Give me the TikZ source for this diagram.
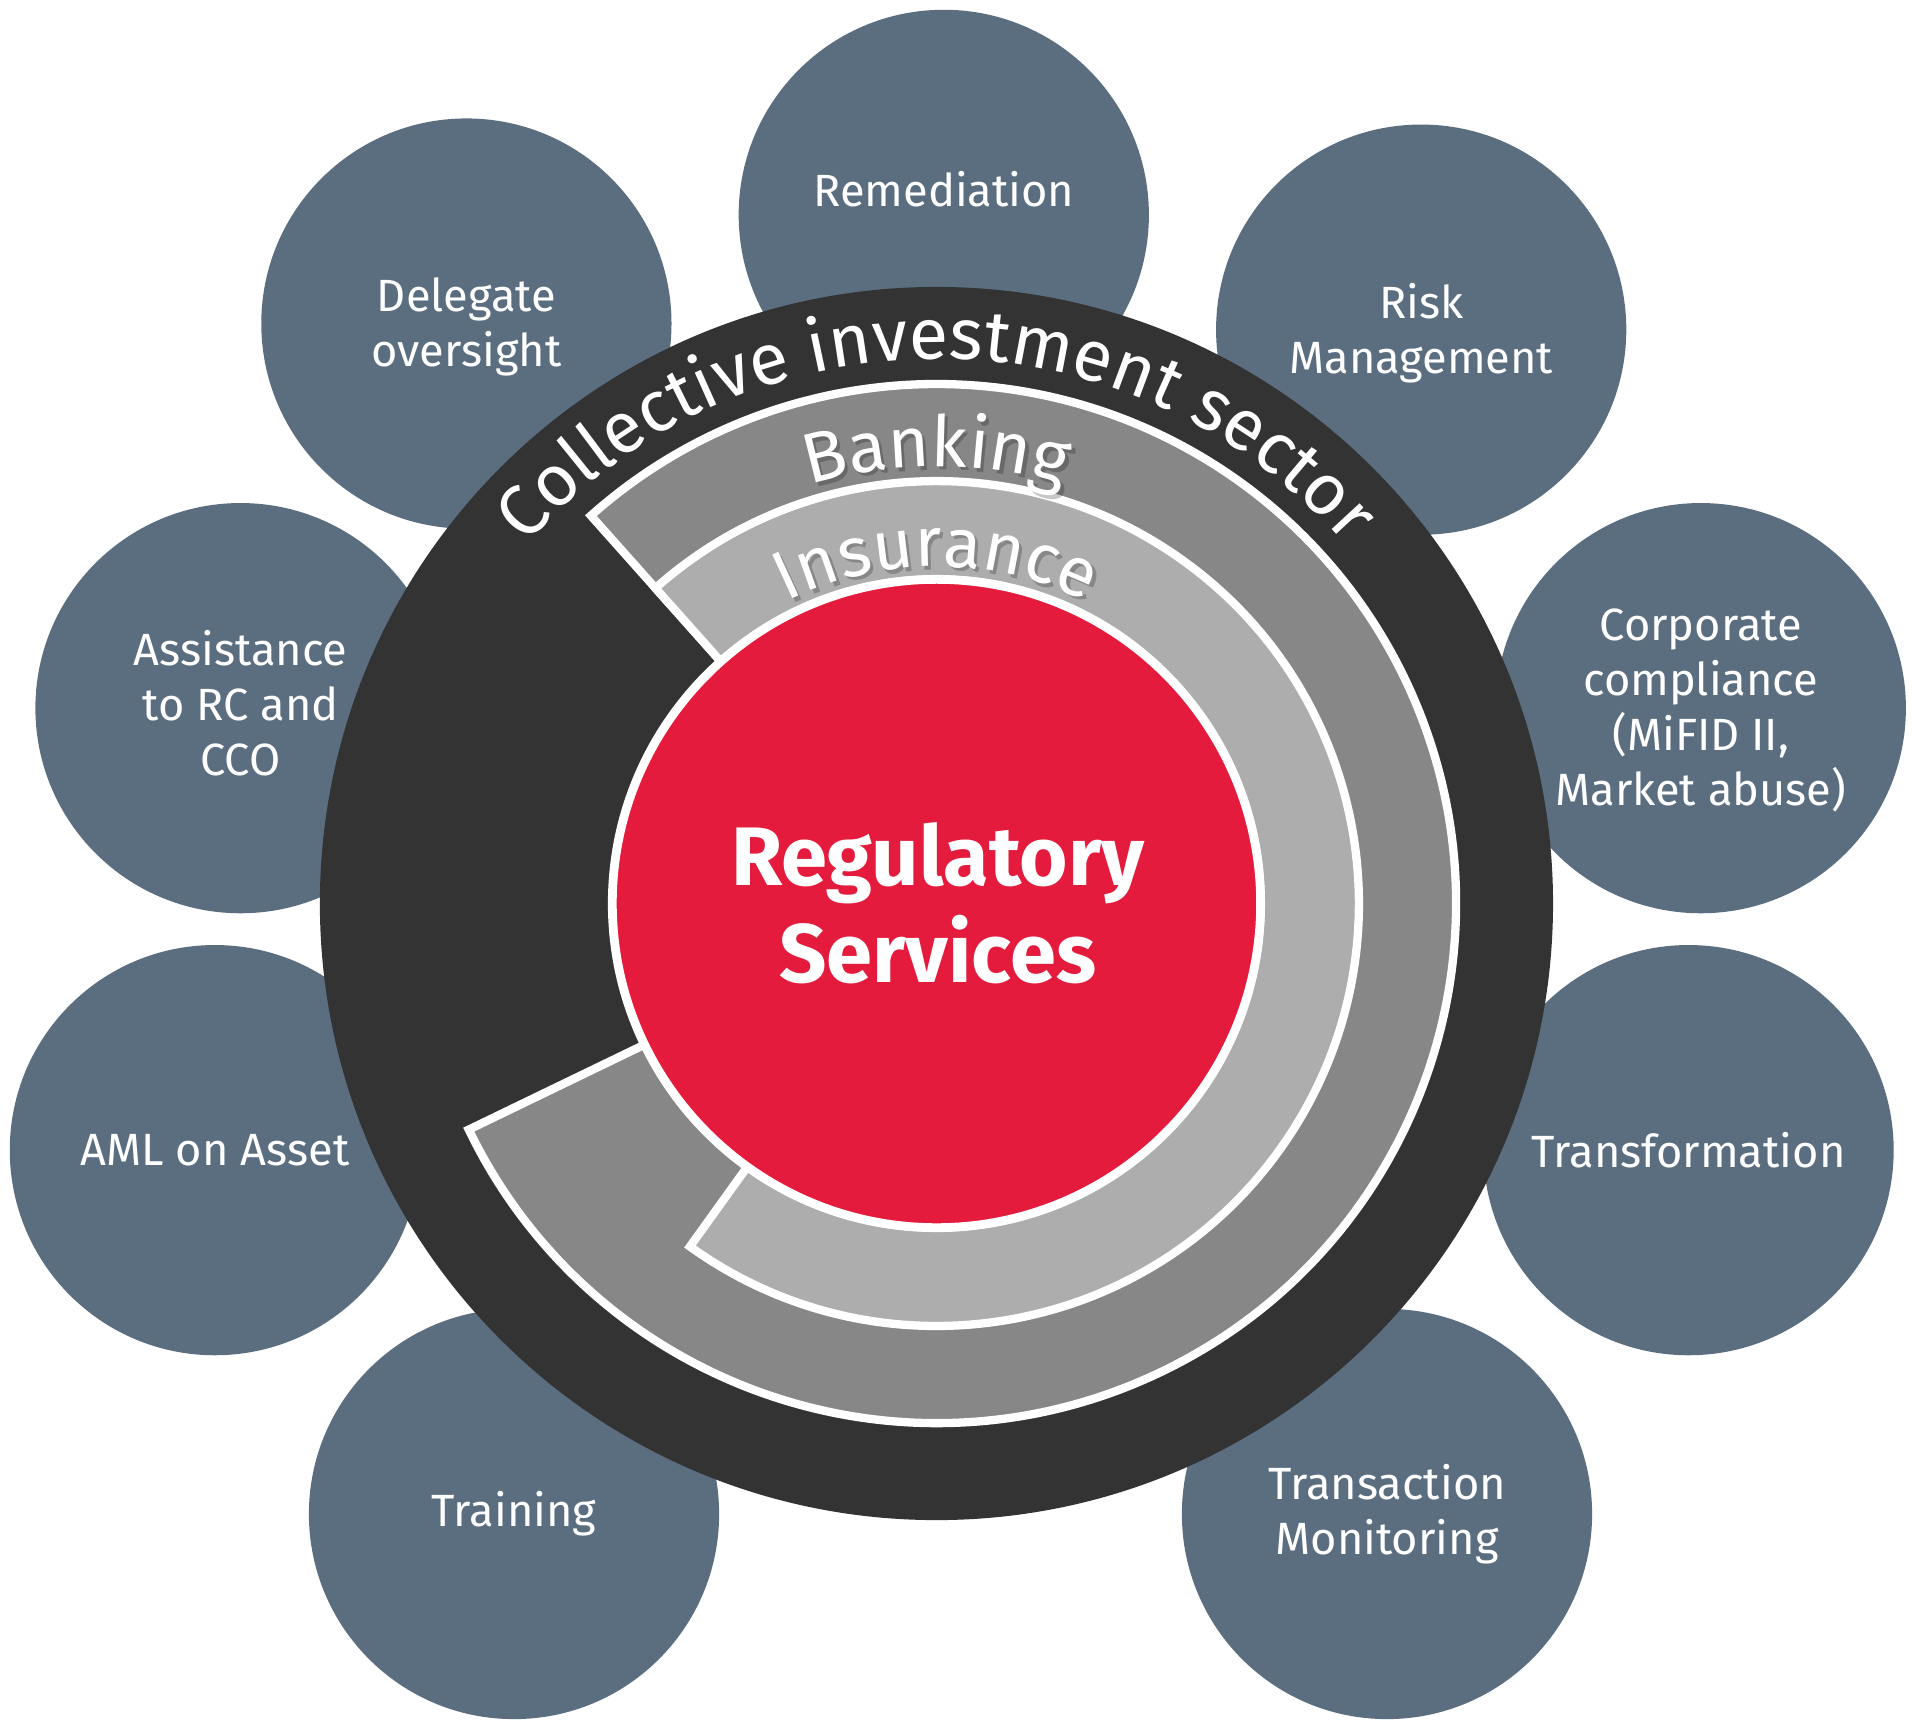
\documentclass[tikz,border=0pt]{standalone}
\usepackage{fontspec}
\setmainfont{Fira Sans}
\usetikzlibrary{decorations.text,calc}
\definecolor{slate}{HTML}{5B6E80}
\definecolor{ringdark}{HTML}{333333}
\definecolor{bankgray}{HTML}{878787}
\definecolor{insgray}{HTML}{ADADAD}
\definecolor{regred}{HTML}{E51B3D}
\begin{document}
\begin{tikzpicture}[
  bubble/.style={circle, fill=slate, minimum size=168pt, inner sep=0pt},
  bubtext/.style={text=white, align=center, font=\fontsize{18.5pt}{22.5pt}\selectfont},
  sectorband/.style={draw=white, line width=3.4pt, line join=miter},
  regtext/.style={text=white, anchor=base, font=\bfseries\fontsize{34pt}{40pt}\selectfont},
]
\useasboundingbox (-383.5pt,-337.65pt) rectangle (399.5pt,370pt);

% outer service bubbles
\node[bubble] (rem)  at (3pt,282pt) {};
\node[bubble] (risk) at (198.5pt,235pt) {};
\node[bubble] (corp) at (313pt,80pt) {};
\node[bubble] (trf)  at (308pt,-101pt) {};
\node[bubble] (tmon) at (184.5pt,-250pt) {};
\node[bubble] (trn)  at (-173pt,-250pt) {};
\node[bubble] (aml)  at (-295.5pt,-101pt) {};
\node[bubble] (asst) at (-285pt,80pt) {};
\node[bubble] (dele) at (-192.5pt,237.5pt) {};

\node[bubtext] (remt)  at ($(rem)+(0,10.5pt)$) {Remediation};
\node[bubtext] (riskt) at ($(risk)+(0,-1.5pt)$) {Risk\\Management};
\node[bubtext] (corpt) at ($(corp)+(0,-1pt)$) {Corporate\\compliance\\(MiFID II,\\Market abuse)};
\node[bubtext] (trft)  at (trf) {Transformation};
\node[bubtext] (tmont) at (tmon) {Transaction\\Monitoring};
\node[bubtext] (trnt)  at (trn) {Training};
\node[bubtext] (amlt)  at (aml) {AML on Asset};
\node[bubtext] (asstt) at ($(asst)+(0,2pt)$) {Assistance\\to RC and\\CCO};
\node[bubtext] (delet) at ($(dele)+(0,-1.5pt)$) {Delegate\\oversight};

% collective investment sector disc
\node[circle, fill=ringdark, minimum size=505pt, inner sep=0pt] (cis) at (0,0) {};

% banking band
\filldraw[fill=bankgray, sectorband] (205.8:212.75pt) arc[start angle=205.8, end angle=491.7, radius=212.75pt]
  -- (491.7:132.75pt) arc[start angle=491.7, end angle=205.8, radius=132.75pt] -- cycle;
% insurance band
\filldraw[fill=insgray, sectorband] (234.3:173pt) arc[start angle=234.3, end angle=491.7, radius=173pt]
  -- (491.7:132.75pt) arc[start angle=491.7, end angle=234.3, radius=132.75pt] -- cycle;

% core
\node[circle, fill=regred, draw=white, line width=3.6pt, minimum size=265.5pt, inner sep=0pt] (reg) at (0,0) {};
\node[regtext] (reg1) at (0.5pt,7.5pt) {Regulatory};
\node[regtext] (reg2) at (0.5pt,-32.5pt) {Services};

% curved labels
\path[decorate, decoration={text along path, text align=center, text color=white,
  text={|\fontsize{29.5pt}{32pt}\selectfont|Collective investment sector}}]
  (180:223pt) arc[start angle=180, end angle=0, radius=223pt];

% shadow of the band labels
\begin{scope}[shift={(1.3pt,-1.5pt)}, opacity=0.22]
\path[decorate, decoration={text along path, text align=center, text color=black,
  text={|\fontsize{29pt}{32pt}\selectfont|Banking}}]
  (180:179pt) arc[start angle=180, end angle=0, radius=179pt];
\path[decorate, decoration={text along path, text align=center, text color=black,
  text={|\fontsize{28.5pt}{32pt}\selectfont|Insurance}}]
  (180:138pt) arc[start angle=180, end angle=0, radius=138pt];
\end{scope}
\path[decorate, decoration={text along path, text align=center, text color=white,
  text={|\fontsize{29pt}{32pt}\selectfont|Banking}}]
  (180:179pt) arc[start angle=180, end angle=0, radius=179pt];
\path[decorate, decoration={text along path, text align=center, text color=white,
  text={|\fontsize{28.5pt}{32pt}\selectfont|Insurance}}]
  (180:138pt) arc[start angle=180, end angle=0, radius=138pt];
\end{tikzpicture}
\end{document}
